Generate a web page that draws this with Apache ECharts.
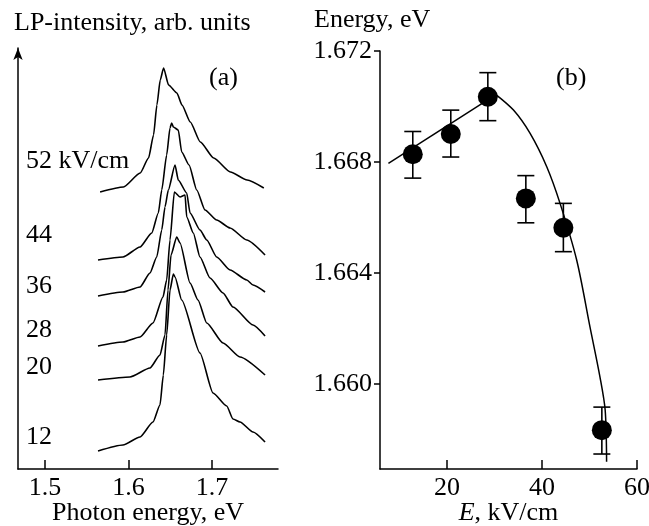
<!DOCTYPE html>
<html>
<head>
<meta charset="utf-8">
<script src="https://cdn.jsdelivr.net/npm/echarts@6/dist/echarts.min.js"></script>
<style>html,body{margin:0;padding:0;background:#fff;}#c{width:649px;height:526px;}</style>
</head>
<body>
<div id="c"></div>
<script>
// ---- Panel (a): LP spectra, [photon energy eV, intensity arb. units] ----
const spec52 = [[1.566,277],[1.594,282],[1.614,296],[1.624,311],[1.630,334],[1.634,364],[1.638,389],[1.642,401],[1.648,384],[1.658,376],[1.664,364],[1.674,347],[1.686,327],[1.702,311],[1.722,297],[1.742,289],[1.762,281]];
const spec44 = [[1.5635,209],[1.5934,212],[1.6138,222],[1.6278,236],[1.6357,256],[1.6398,279],[1.6457,314],[1.6497,341],[1.6517,346],[1.6537,342],[1.6596,339],[1.6637,317],[1.6725,304],[1.6817,279],[1.6916,259],[1.7056,249],[1.7216,241],[1.7416,229],[1.7635,214]];
const spec36 = [[1.5635,173],[1.5934,177],[1.6138,182],[1.6257,196],[1.6338,212],[1.6398,239],[1.6437,262],[1.6477,279],[1.6557,304],[1.6596,289],[1.6697,276],[1.6737,256],[1.6856,239],[1.6937,229],[1.7056,212],[1.7216,199],[1.7416,189],[1.7491,184],[1.7635,177]];
const spec28 = [[1.5635,123],[1.5934,127],[1.6138,132],[1.6293,146],[1.6413,172],[1.6457,189],[1.6497,229],[1.6549,277],[1.6617,272],[1.6677,274],[1.6697,252],[1.6776,236],[1.6856,212],[1.6976,191],[1.7132,176],[1.7251,162],[1.7491,144],[1.7635,133]];
const spec20 = [[1.5635,89],[1.6018,92],[1.6257,101],[1.6377,114],[1.6437,134],[1.6473,179],[1.6509,214],[1.6577,232],[1.6617,226],[1.6737,186],[1.6832,169],[1.6937,146],[1.7132,126],[1.7335,112],[1.7635,94]];
const spec12 = [[1.5635,18],[1.5934,24],[1.6138,32],[1.6293,47],[1.6377,64],[1.6417,94],[1.6457,134],[1.6497,179],[1.6537,195],[1.6557,192],[1.6637,169],[1.6856,116],[1.7012,76],[1.7176,63],[1.7251,50],[1.7335,47],[1.7491,37],[1.7635,27]];
const specLabels = ['52 kV/cm','44','36','28','20','12'];
const photonTicks = [1.5, 1.6, 1.7];

// ---- Panel (b): peak energy vs field ----
const fieldE   = [12.8, 20.8, 28.6, 36.6, 44.5, 52.6];
const energy   = [1.66828, 1.66901, 1.67035, 1.66669, 1.66563, 1.65834];
const errHigh  = [1.66910, 1.66987, 1.67122, 1.66751, 1.66651, 1.65917];
const errLow   = [1.66742, 1.66818, 1.66949, 1.66581, 1.66477, 1.65748];
const fitLine  = [[7.67,1.66795],[30.3,1.67043]];
const fitCurve = [[30.3,1.67043],[34.0,1.66987],[37.5,1.66903],[41.0,1.66783],[43.8,1.66651],[47.3,1.66447],[50.1,1.66206],[52.2,1.66026],[53.3,1.65906],[53.6,1.65720]];
const fieldTicks  = [20, 40, 60];
const energyTicks = [1.660, 1.664, 1.668, 1.672];

const FONT = "'Liberation Serif','Times New Roman',serif";
const FS = 26;
const txt = {color:'#000', fontFamily:FONT, fontSize:FS};

const chart = echarts.init(document.getElementById('c'), null, {renderer:'canvas'});

function specSeries(d){
  return {type:'line', xAxisIndex:0, yAxisIndex:0, data:d, showSymbol:false, symbol:'none',
    smooth:0.2, smoothMonotone:'x', lineStyle:{color:'#000', width:1.6}, silent:true, animation:false};
}

const labelY = [162, 236, 287, 331, 368, 438];

chart.setOption({
  animation:false,
  backgroundColor:'#fff',
  grid:[
    {left:18, top:48, width:260, height:421, containLabel:false, outerBoundsMode:'none'},
    {left:380, top:51, width:257, height:418, containLabel:false, outerBoundsMode:'none'}
  ],
  xAxis:[
    {gridIndex:0, type:'value', min:1.4677, max:1.779,
     axisLine:{lineStyle:{color:'#000', width:1.5}},
     axisTick:{inside:true, length:9, lineStyle:{color:'#000', width:1.5}, customValues:photonTicks},
     axisLabel:{...txt, margin:6, customValues:photonTicks, formatter:v=>v.toFixed(1)},
     splitLine:{show:false},
     name:'Photon energy, eV', nameLocation:'middle', nameGap:44, nameMoveOverlap:false,
     nameTextStyle:{...txt, verticalAlign:'middle'}},
    {gridIndex:1, type:'value', min:5.9, max:60,
     axisLine:{lineStyle:{color:'#000', width:1.5}},
     axisTick:{inside:true, length:9, lineStyle:{color:'#000', width:1.5}, customValues:fieldTicks},
     axisLabel:{...txt, margin:6, customValues:fieldTicks},
     splitLine:{show:false},
     name:'{i|E}, kV/cm', nameLocation:'middle', nameGap:44, nameMoveOverlap:false,
     nameTextStyle:{...txt, verticalAlign:'middle', rich:{i:{...txt, fontStyle:'italic'}}}}
  ],
  yAxis:[
    {gridIndex:0, type:'value', min:0, max:421,
     axisLine:{show:true, symbol:['none','arrow'], symbolSize:[7,12], lineStyle:{color:'#000', width:1.5}},
     axisTick:{show:false}, axisLabel:{show:false}, splitLine:{show:false}},
    {gridIndex:1, type:'value', min:1.65694, max:1.672,
     axisLine:{show:true, lineStyle:{color:'#000', width:1.5}},
     axisTick:{show:true, length:6, lineStyle:{color:'#000', width:1.5}, customValues:energyTicks},
     axisLabel:{...txt, margin:8, customValues:energyTicks, formatter:v=>v.toFixed(3)},
     splitLine:{show:false}}
  ],
  series:[
    specSeries(spec52), specSeries(spec44), specSeries(spec36),
    specSeries(spec28), specSeries(spec20), specSeries(spec12),
    {type:'line', xAxisIndex:1, yAxisIndex:1, data:fitLine, showSymbol:false, symbol:'none',
     lineStyle:{color:'#000', width:1.5}, silent:true},
    {type:'line', xAxisIndex:1, yAxisIndex:1, data:fitCurve, showSymbol:false, symbol:'none',
     smooth:0.3, lineStyle:{color:'#000', width:1.5}, silent:true},
    {type:'custom', xAxisIndex:1, yAxisIndex:1,
     data:fieldE.map((x,i)=>[x, errLow[i], errHigh[i]]),
     renderItem:function(params, api){
       const x = api.value(0);
       const top = api.coord([x, api.value(2)]);
       const bot = api.coord([x, api.value(1)]);
       const w = 8.5;
       const st = {stroke:'#000', lineWidth:1.6};
       return {type:'group', children:[
         {type:'line', shape:{x1:top[0], y1:top[1], x2:bot[0], y2:bot[1]}, style:st},
         {type:'line', shape:{x1:top[0]-w, y1:top[1], x2:top[0]+w, y2:top[1]}, style:st},
         {type:'line', shape:{x1:bot[0]-w, y1:bot[1], x2:bot[0]+w, y2:bot[1]}, style:st}
       ]};
     }},
    {type:'scatter', xAxisIndex:1, yAxisIndex:1, data:fieldE.map((x,i)=>[x, energy[i]]),
     symbol:'circle', symbolSize:20, itemStyle:{color:'#000', opacity:1}, z:5, silent:true}
  ],
  graphic:[
    {type:'text', left:14, top:10, style:{text:'LP-intensity, arb. units', fill:'#000', font:FS+'px '+FONT}},
    {type:'text', left:314, top:7, style:{text:'Energy, eV', fill:'#000', font:FS+'px '+FONT}},
    {type:'text', left:209, top:65, style:{text:'(a)', fill:'#000', font:FS+'px '+FONT}},
    {type:'text', left:556, top:65, style:{text:'(b)', fill:'#000', font:FS+'px '+FONT}}
  ].concat(specLabels.map((s,i)=>({type:'text', left:26, top:labelY[i]-14,
    style:{text:s, fill:'#000', font:FS+'px '+FONT}})))
});
</script>
</body>
</html>
